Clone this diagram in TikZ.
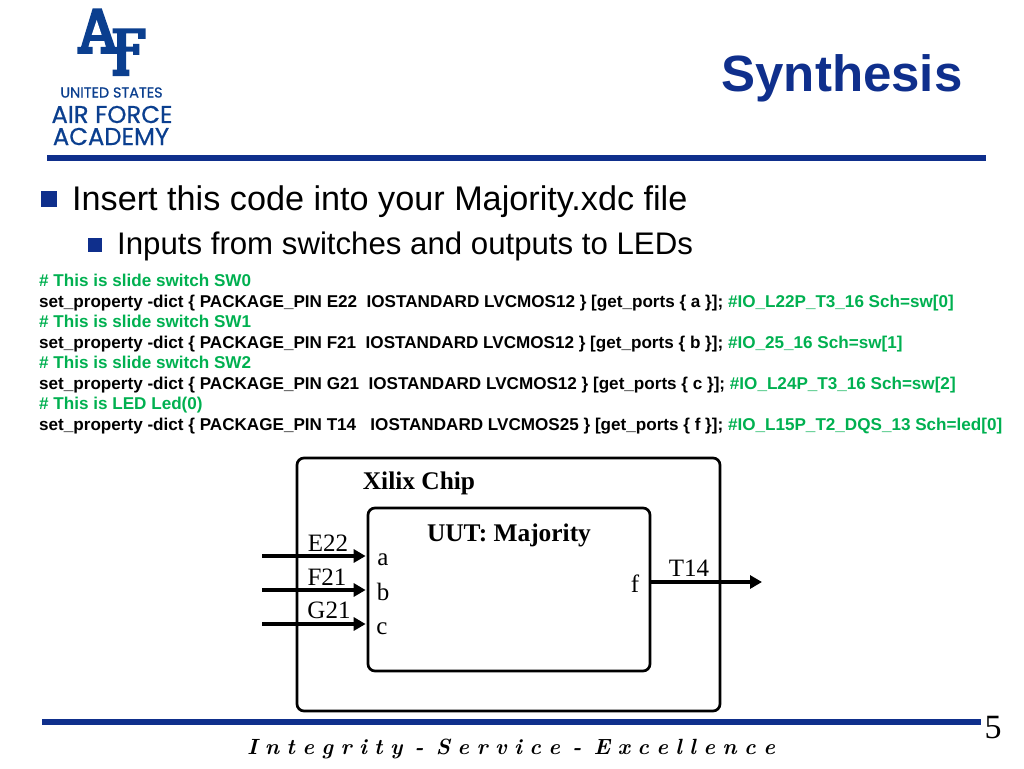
\documentclass[tikz,border=0pt]{standalone}
\usepackage{fontspec}
\setmainfont{Liberation Sans}
\newfontfamily\serifface{Liberation Serif}
\newfontfamily\logoface[FakeBold=0.6]{Poppins}
\newfontfamily\mottoface{Latin Modern Roman}
\usetikzlibrary{arrows.meta}
\definecolor{afblue}{HTML}{0F2F8C}
\definecolor{crestblue}{HTML}{0B3F8F}
\definecolor{codegreen}{HTML}{00B050}
\newcommand{\cmt}[1]{\textcolor{codegreen}{#1}}
\tikzset{
  bar/.style={fill=afblue, draw=none, inner sep=0pt},
  code/.style={anchor=base west, inner sep=0pt, font=\fontsize{17.1}{19}\selectfont\bfseries},
  pin/.style={anchor=base, inner sep=0pt, font=\serifface\fontsize{25}{28}\selectfont},
  port/.style={anchor=base, inner sep=0pt, font=\serifface\fontsize{25}{28}\selectfont},
  boxtitle/.style={anchor=base, inner sep=0pt, font=\serifface\fontsize{25.4}{28}\selectfont\bfseries},
  chipbox/.style={draw, line width=2.7pt, rounded corners=7pt, inner sep=0pt, fill=white},
  wire/.style={line width=4.4pt, shorten >=1pt, -{Triangle[length=12pt,width=13pt]}},
  crest/.style={inner sep=0pt, text=crestblue},
}
\begin{document}
\begin{tikzpicture}[x=1pt,y=-1pt]
\useasboundingbox (0,0) rectangle (1024,768);
% logo
\fill[crestblue] (92.7,8.3) -- (101.7,8.3) -- (115,47) -- (117,47) -- (117,54) -- (100.7,54) -- (100.7,47) -- (106,47) -- (104.3,41) -- (90,41) -- (88.3,47) -- (92.7,47) -- (92.7,54) -- (77.3,54) -- (77.3,47) -- (81,47) -- cycle;
\fill[white] (96.7,20) -- (101.7,35) -- (91.7,35) -- cycle;
\fill[crestblue] (112.7,28.3) -- (145.5,28.3) -- (145.5,39) -- (138,39) -- (138,33.3) -- (126,33.3) -- (126,46.7) -- (133,46.7) -- (133,44) -- (139.3,44) -- (139.3,55) -- (133,55) -- (133,51.7) -- (126,51.7) -- (126,69.5) -- (129.3,69.5) -- (129.3,76) -- (112.7,76) -- (112.7,69.5) -- (117,69.5) -- (117,33.3) -- (112.7,33.3) -- cycle;
\node[crest, font=\logoface\fontsize{14.4}{16}\selectfont] (logotop) at (111.5,92.5) {UNITED STATES};
\node[crest, font=\logoface\fontsize{24.3}{26}\selectfont] (logomid) at (112,114.5) {AIR FORCE};
\node[crest, font=\logoface\fontsize{24.3}{26}\selectfont] (logolow) at (111,136.5) {ACADEMY};
% title and rules
\node[inner sep=0pt, text=afblue, font=\fontsize{51}{56}\selectfont\bfseries] (title) at (842,78) {Synthesis};
\node[bar, minimum width=939pt, minimum height=6.5pt] (toprule) at (516.5,158) {};
\node[bar, minimum width=939pt, minimum height=6pt] (lowrule) at (511.5,721.5) {};
% bullets
\node[bar, minimum width=16pt, minimum height=16pt] (bulA) at (49,199) {};
\node[anchor=base west, inner sep=0pt, font=\fontsize{34.2}{36}\selectfont] (itemA) at (72,210) {Insert this code into your Majority.xdc file};
\node[bar, minimum width=14pt, minimum height=14pt] (bulB) at (95,245) {};
\node[anchor=base west, inner sep=0pt, font=\fontsize{31.2}{33}\selectfont] (itemB) at (117,254) {Inputs from switches and outputs to LEDs};
% code lines
\node[code] (line0) at (39,286) {\cmt{\# This is slide switch SW0}};
\node[code] (line1) at (39,307) {set\_property -dict \{ PACKAGE\_PIN E22\ \ IOSTANDARD LVCMOS12 \} [get\_ports \{ a \}]; \cmt{\#IO\_L22P\_T3\_16 Sch=sw[0]}};
\node[code] (line2) at (39,327) {\cmt{\# This is slide switch SW1}};
\node[code] (line3) at (39,348) {set\_property -dict \{ PACKAGE\_PIN F21\ \ IOSTANDARD LVCMOS12 \} [get\_ports \{ b \}]; \cmt{\#IO\_25\_16 Sch=sw[1]}};
\node[code] (line4) at (39,368) {\cmt{\# This is slide switch SW2}};
\node[code] (line5) at (39,389) {set\_property -dict \{ PACKAGE\_PIN G21\ \ IOSTANDARD LVCMOS12 \} [get\_ports \{ c \}]; \cmt{\#IO\_L24P\_T3\_16 Sch=sw[2]}};
\node[code] (line6) at (39,409) {\cmt{\# This is LED Led(0)}};
\node[code] (line7) at (39,430) {set\_property -dict \{ PACKAGE\_PIN T14\ \ \ IOSTANDARD LVCMOS25 \} [get\_ports \{ f \}]; \cmt{\#IO\_L15P\_T2\_DQS\_13 Sch=led[0]}};
% chip
\node[chipbox, minimum width=423pt, minimum height=253pt] (chip) at (508.5,584.5) {};
\node[chipbox, minimum width=282pt, minimum height=163pt] (uut) at (509,589.5) {};
\node[boxtitle] (chiplbl) at (419,489) {Xilix Chip};
\node[boxtitle] (uutlbl) at (509,541) {UUT: Majority};
\coordinate (inE) at (262,556);
\coordinate (inF) at (262,590);
\coordinate (inG) at (262,624);
\coordinate (outT) at (763,582);
\draw[wire] (inE) -- (uut.west |- inE);
\draw[wire] (inF) -- (uut.west |- inF);
\draw[wire] (inG) -- (uut.west |- inG);
\draw[wire] (uut.east |- outT) -- (outT);
\node[pin] (pinE) at (328,551) {E22};
\node[pin] (pinF) at (327,585) {F21};
\node[pin] (pinG) at (329,618) {G21};
\node[pin] (pinT) at (689,576) {T14};
\node[port] (porta) at (383,565) {a};
\node[port] (portb) at (383,600) {b};
\node[port] (portc) at (382,634) {c};
\node[port] (portf) at (635,592) {f};
% footer
\node[anchor=base, inner sep=0pt, font=\mottoface\fontsize{22}{24}\selectfont\bfseries\itshape] (motto) at (511,754) {\spaceskip=7.4pt I n t e g r i t y\hspace{4.7pt} - \hspace{4.7pt}S e r v i c e\hspace{4.7pt} - \hspace{4.7pt}E x c e l l e n c e};
\node[inner sep=0pt, font=\serifface\fontsize{34}{36}\selectfont] (pagenum) at (993,728) {5};
\end{tikzpicture}
\end{document}
